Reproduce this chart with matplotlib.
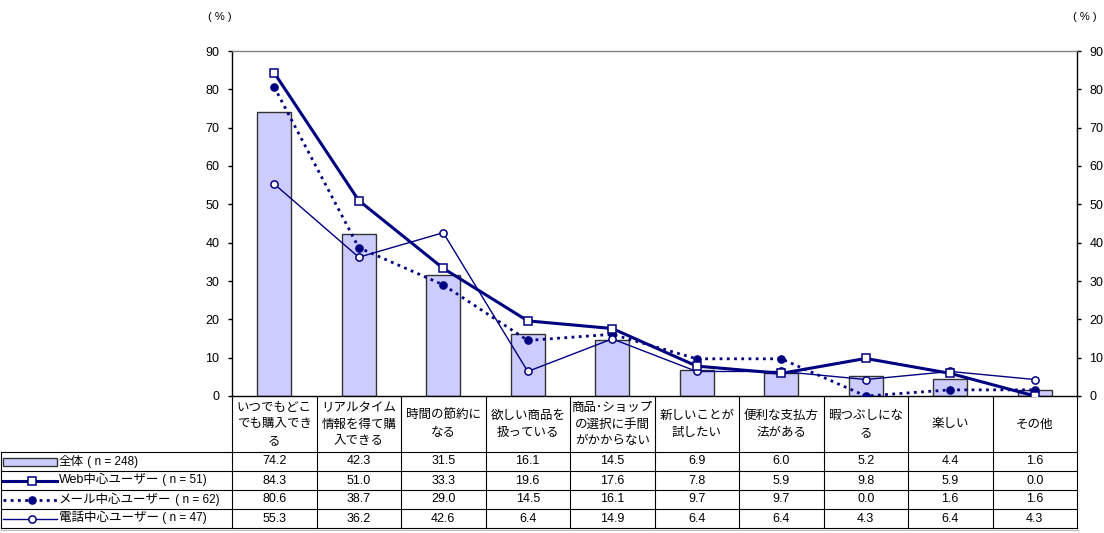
import matplotlib
matplotlib.use("Agg")
import matplotlib.pyplot as plt
from matplotlib.transforms import blended_transform_factory
from matplotlib.lines import Line2D
from matplotlib.patches import Rectangle

plt.rcParams['font.family'] = ['Liberation Sans', 'Noto Sans CJK JP', 'DejaVu Sans']

categories = ["いつでもどこ\nでも購入でき\nる", "リアルタイム\n情報を得て購\n入できる", "時間の節約に\nなる",
              "欲しい商品を\n扱っている", "商品･ショップ\nの選択に手間\nがかからない", "新しいことが\n試したい",
              "便利な支払方\n法がある", "暇つぶしにな\nる", "楽しい", "その他"]
total = [74.2, 42.3, 31.5, 16.1, 14.5, 6.9, 6.0, 5.2, 4.4, 1.6]
web = [84.3, 51.0, 33.3, 19.6, 17.6, 7.8, 5.9, 9.8, 5.9, 0.0]
mail = [80.6, 38.7, 29.0, 14.5, 16.1, 9.7, 9.7, 0.0, 1.6, 1.6]
phone = [55.3, 36.2, 42.6, 6.4, 14.9, 6.4, 6.4, 4.3, 6.4, 4.3]
series_names = ["全体", "Web中心ユーザー", "メール中心ユーザー", "電話中心ユーザー"]
series_n = [" ( n = 248)", " ( n = 51)", " ( n = 62)", " ( n = 47)"]
yticks = [0, 10, 20, 30, 40, 50, 60, 70, 80, 90]

W, H = 1104, 533
fig = plt.figure(figsize=(W / 100, H / 100), dpi=100)

def fx(px):
    return px / W

def fy(py):
    return 1 - py / H

ax_l, ax_r, ax_t, ax_b = 232, 1077, 51, 396
ax = fig.add_axes([fx(ax_l), fy(ax_b), fx(ax_r - ax_l), fy(ax_t) - fy(ax_b)])
navy = '#000080'
ms = 5.2
x = list(range(len(categories)))
ax.bar(x, total, width=0.4, color='#CCCCFF', edgecolor='#333333', linewidth=1, zorder=2)
ax.plot(x, web, color=navy, lw=2.2, marker='s', ms=ms, mfc='white', mec=navy, mew=1.1, zorder=4)
ax.plot(x, mail, color=navy, lw=2, ls=(0, (1.0, 1.6)), marker='o', ms=ms, mfc=navy, mec=navy, zorder=3)
ax.plot(x, phone, color=navy, lw=1, marker='o', ms=ms, mfc='white', mec=navy, mew=1.1, zorder=3)

ax.set_xlim(-0.5, len(categories) - 0.5)
ax.set_ylim(0, 90)
ax.set_yticks(yticks)
ax.set_xticks([])
ax.tick_params(axis='y', direction='out', length=3, width=1, labelsize=9, left=True, right=True,
               labelleft=True, labelright=True, pad=6)
for s in ['left', 'right', 'bottom']:
    ax.spines[s].set_color('black')
    ax.spines[s].set_linewidth(1)
ax.spines['top'].set_color('#808080')
ax.spines['top'].set_linewidth(1)

fig.text(fx(220), fy(17), "( % )", ha='center', va='center', fontsize=8)
fig.text(fx(1085), fy(17), "( % )", ha='center', va='center', fontsize=8)

# table
bt = blended_transform_factory(ax.transData, fig.transFigure)
head_top, head_bot = 396, 452
row_h = 19
rows_y = [head_bot + i * row_h for i in range(5)]
lc = 'black'
tbl_l = 1
for i in range(len(categories) + 1):
    xx = i - 0.5
    fig.add_artist(Line2D([xx, xx], [fy(head_top), fy(rows_y[-1])], transform=bt, color=lc, lw=0.8))
for yy in rows_y:
    fig.add_artist(Line2D([fx(tbl_l), fx(ax_r)], [fy(yy), fy(yy)], transform=fig.transFigure, color=lc, lw=0.8))
fig.add_artist(Line2D([fx(tbl_l), fx(tbl_l)], [fy(rows_y[0]), fy(rows_y[-1])], transform=fig.transFigure, color=lc, lw=0.8))
fig.add_artist(Line2D([fx(tbl_l), fx(ax_r + 1)], [fy(rows_y[-1] + 2), fy(rows_y[-1] + 2)], transform=fig.transFigure, color='#bbbbbb', lw=0.8))

for i, c in enumerate(categories):
    fig.text(i, fy((head_top + head_bot) / 2 + 0.5), c, transform=bt, ha='center', va='center',
             fontsize=9, linespacing=1.5, multialignment='center')

for r, vals in enumerate([total, web, mail, phone]):
    yc = fy(rows_y[r] + row_h / 2)
    for i, v in enumerate(vals):
        fig.text(i, yc, f"{v:.1f}", transform=bt, ha='center', va='center', fontsize=9)

# legend keys
key_x0, key_x1, key_m = 3, 57, 32
for r in range(4):
    yc = fy(rows_y[r] + row_h / 2)
    if r == 0:
        fig.add_artist(Rectangle((fx(key_x0), yc - 4 / H), fx(key_x1 - key_x0), 8 / H, transform=fig.transFigure,
                                 facecolor='#CCCCFF', edgecolor='#333333', lw=1))
    elif r == 1:
        fig.add_artist(Line2D([fx(key_x0), fx(key_x1)], [yc, yc], transform=fig.transFigure, color=navy, lw=2.2))
        fig.add_artist(Line2D([fx(key_m)], [yc], transform=fig.transFigure, marker='s', ms=ms, mfc='white', mec=navy, mew=1.1))
    elif r == 2:
        fig.add_artist(Line2D([fx(key_x0), fx(key_x1)], [yc, yc], transform=fig.transFigure, color=navy, lw=2, ls=(0, (1.0, 1.6))))
        fig.add_artist(Line2D([fx(key_m)], [yc], transform=fig.transFigure, marker='o', ms=ms, mfc=navy, mec=navy))
    else:
        fig.add_artist(Line2D([fx(key_x0), fx(key_x1)], [yc, yc], transform=fig.transFigure, color=navy, lw=1))
        fig.add_artist(Line2D([fx(key_m)], [yc], transform=fig.transFigure, marker='o', ms=ms, mfc='white', mec=navy, mew=1.1))
    t1 = fig.text(fx(59), yc, series_names[r], ha='left', va='center', fontsize=9)
    plt.annotate(series_n[r], xy=(1, 0.5), xycoords=t1, ha='left', va='center', fontsize=8.5,
                 annotation_clip=False)

fig.savefig("out.png", dpi=100)
